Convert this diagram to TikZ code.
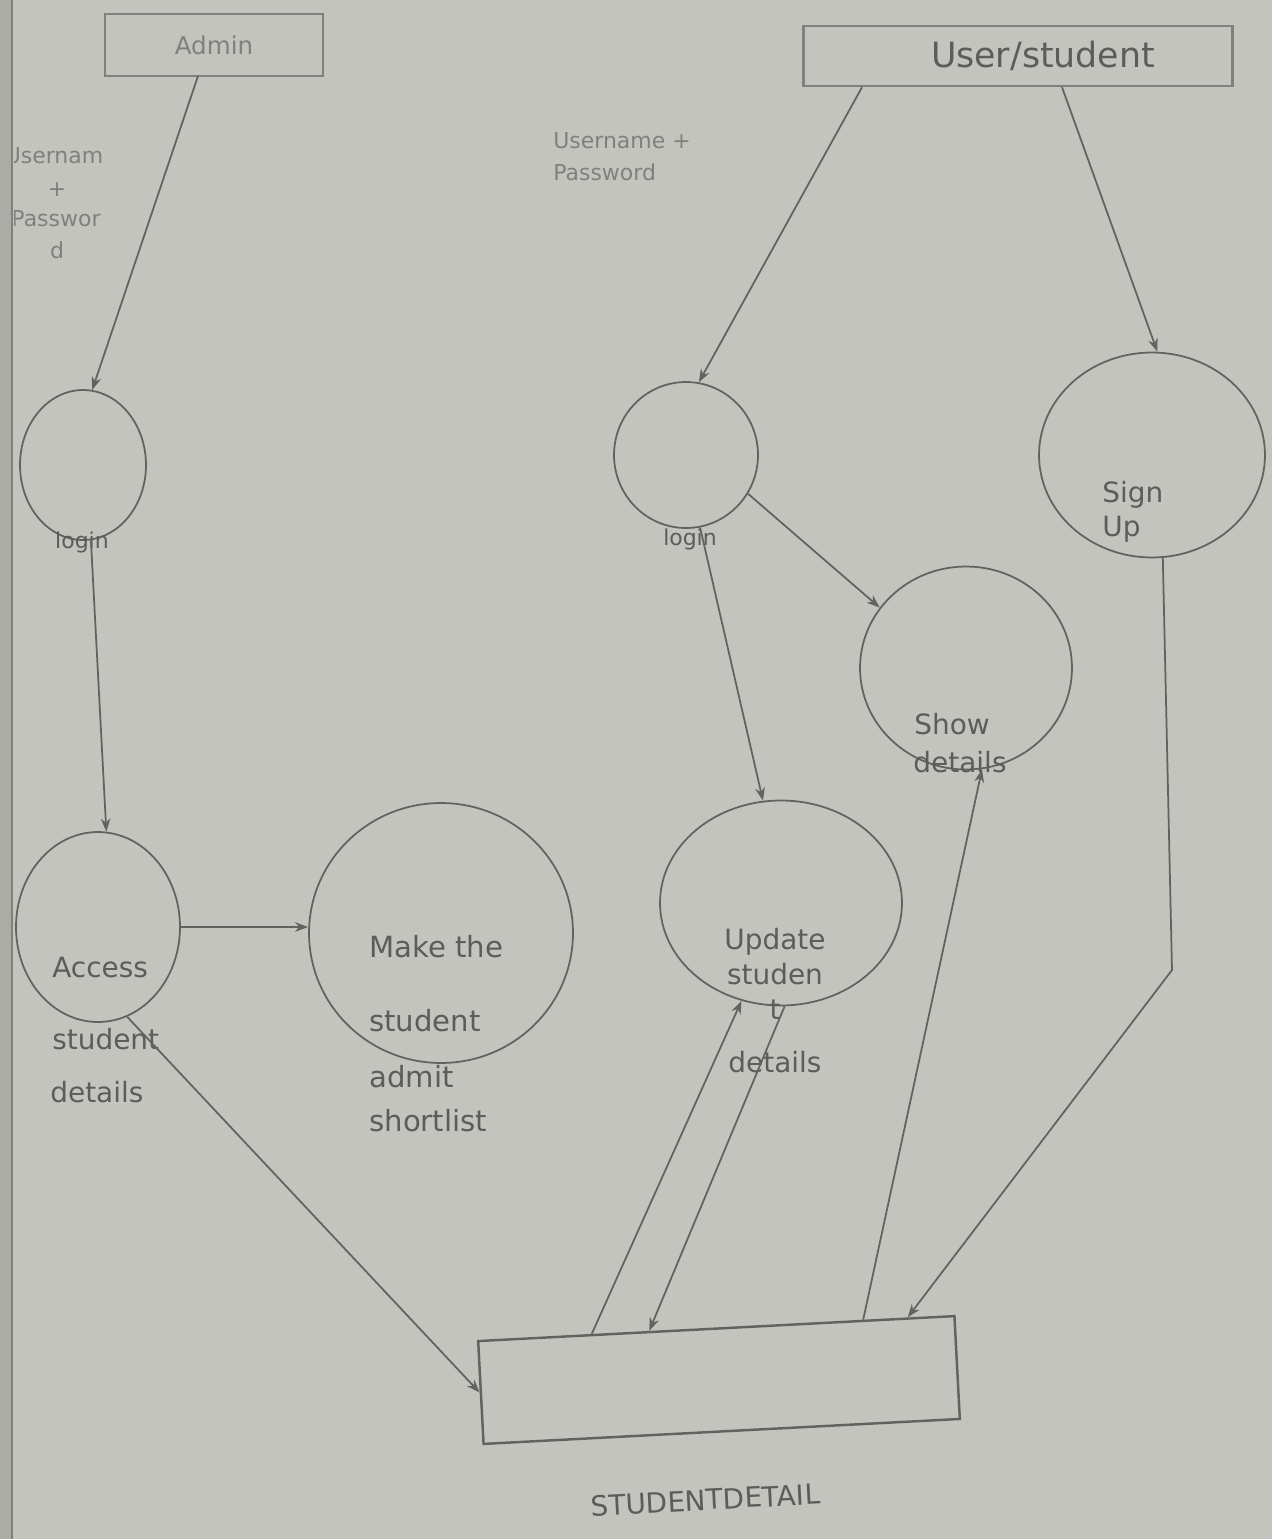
\documentclass[tikz,border=0pt]{standalone}
\usepackage{fontspec}
\setmainfont{DejaVu Sans}
\usetikzlibrary{shapes.geometric,arrows.meta,calc}
\definecolor{bg}{RGB}{196,196,190}
\definecolor{ink}{RGB}{92,92,92}
\definecolor{lin}{RGB}{98,98,96}
\definecolor{soft}{RGB}{128,128,125}
\begin{document}
\begin{tikzpicture}[x=0.02cm,y=-0.02cm,
  proc/.style={ellipse,draw=lin,line width=1pt,inner sep=0pt},
  box/.style={rectangle,draw=soft,line width=1.4pt,inner sep=0pt},
  lbl/.style={text=ink,inner sep=0pt,font=\fontsize{15.9}{19}\selectfont},
  small/.style={text=soft,inner sep=0pt,font=\fontsize{12.5}{15}\selectfont},
  flow/.style={draw=lin,line width=1pt,-{Stealth[length=7.5pt,width=5.5pt]}},
]
\useasboundingbox (0,0) rectangle (1272,1539);
\fill[bg] (0,0) rectangle (1272,1539);
\fill[bg!88!black] (0,0) rectangle (12,1539);
\draw[soft,line width=1.2pt] (12,0) -- (12,1539);

% external entities
\node[box,minimum width=4.36cm,minimum height=1.24cm,text=soft,font=\fontsize{14}{16}\selectfont] (admin) at (214,45) {Admin};
\node[box,minimum width=8.58cm,minimum height=1.2cm,text=ink,font=\fontsize{19.8}{23}\selectfont] (user) at (1018,56) {\hspace*{1cm}User/student};

% processes
\node[proc,minimum width=2.52cm,minimum height=3.0cm] (alogin) at (83,465) {};
\node[proc,minimum width=2.88cm,minimum height=2.92cm] (ulogin) at (686,455) {};
\node[proc,minimum width=4.52cm,minimum height=4.10cm] (signup) at (1152,455) {};
\node[proc,minimum width=4.24cm,minimum height=4.06cm] (show) at (966,668) {};
\node[proc,minimum width=4.84cm,minimum height=4.10cm] (update) at (781,903) {};
\node[proc,minimum width=3.28cm,minimum height=3.80cm] (access) at (98,927) {};
\node[proc,minimum width=5.28cm,minimum height=5.20cm] (make) at (441,933) {};

% data store
\node[box,draw=lin,minimum width=9.54cm,minimum height=2.06cm,rotate=3] (sd) at (719,1380) {};
\node[lbl,anchor=base,rotate=3] (sdname) at (706,1510) {STUDENTDETAIL};

% labels
\begin{scope}
\clip (14,0) rectangle (300,300);
\node[small,anchor=base] (ul1) at (54,163) {Usernam};
\node[small,anchor=base] (ul2) at (57,196) {+};
\node[small,anchor=base] (ul3) at (56,226) {Passwor};
\node[small,anchor=base] (ul4) at (57,258) {d};
\end{scope}
\node[small,anchor=base west] (up1) at (553,148) {Username +};
\node[small,anchor=base west] (up2) at (553,180) {Password};

\node[small,text=ink,anchor=base] (alog) at (82,548) {login};
\node[small,text=ink,anchor=base] (ulog) at (690,545) {login};

\node[lbl,anchor=base west] (su1) at (1102,502) {Sign};
\node[lbl,anchor=base west] (su2) at (1102,536) {Up};

\node[lbl,anchor=base] (sh1) at (952,734) {Show};
\node[lbl,anchor=base] (sh2) at (960,772) {details};

\node[lbl,anchor=base] (ud1) at (775,949) {Update};
\node[lbl,anchor=base] (ud2) at (775,984) {studen};
\node[lbl,anchor=base] (ud3) at (775,1019) {t};
\node[lbl,anchor=base] (ud4) at (775,1072) {details};

\node[lbl,anchor=base west] (ac1) at (52,977) {Access};
\node[lbl,anchor=base west] (ac2) at (52,1049) {student};
\node[lbl,anchor=base west] (ac3) at (50,1102) {details};

\node[lbl,anchor=base west,font=\fontsize{16.6}{19}\selectfont] (mk1) at (369,957) {Make the};
\node[lbl,anchor=base west,font=\fontsize{16.6}{19}\selectfont] (mk2) at (369,1031) {student};
\node[lbl,anchor=base west,font=\fontsize{16.6}{19}\selectfont] (mk3) at (369,1087) {admit};
\node[lbl,anchor=base west,font=\fontsize{16.6}{19}\selectfont] (mk4) at (369,1131) {shortlist};

% flows
\draw[flow] ($(admin.center)+(-16,31)$) -- (alogin.83);
\draw[flow] (alogin.-84) -- (access.85);
\draw[flow] (access.east) -- (access.east -| make.west);
\draw[flow] (access.-72) -- (sd.west);

\draw[flow] ($(user.south)+(-156,0)$) -- (ulogin.80);
\draw[flow] ($(user.south)+(44,0)$) -- (signup.87);
\draw[flow] (ulogin.-32) -- (show.145);
\draw[flow] (ulogin.-79) -- (update.100);

\coordinate (bend) at (1172,970);
\draw[flow] (signup.-84) -- (bend) -- ($(sd.north west)!0.9!(sd.north east)$);
\draw[flow] ($(sd.north west)!0.807!(sd.north east)$) -- (show.-81);
\draw[flow] ($(sd.north west)!0.24!(sd.north east)$) -- (update.-112);
\draw[flow] (update.-88) -- ($(sd.north west)!0.36!(sd.north east)$);
\end{tikzpicture}
\end{document}
